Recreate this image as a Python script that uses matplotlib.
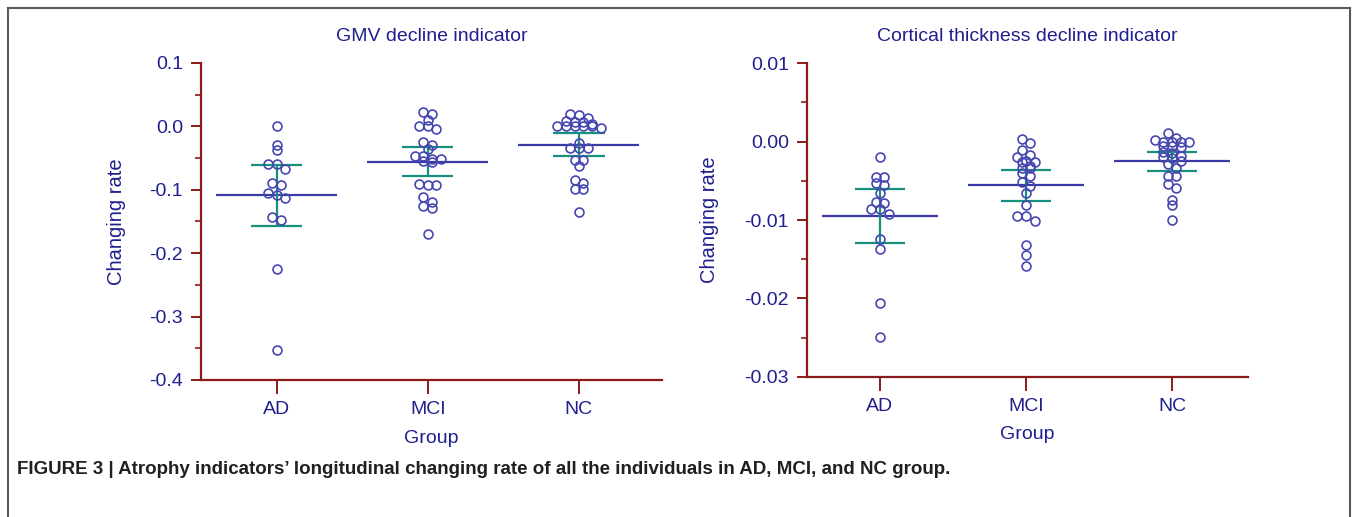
import matplotlib

matplotlib.use("Agg")
import matplotlib.pyplot as plt
import numpy as np
from matplotlib.lines import Line2D
from matplotlib.ticker import FormatStrFormatter, MultipleLocator

# Палитра как в исходнике (Prism)
SPINE = "#8b1a1a"
TEXT = "#1f1f8f"
POINT = "#4646b0"
MEAN = "#3a3aa6"
CI = "#17917f"

plt.rcParams.update({
    "font.family": ["Liberation Sans", "DejaVu Sans"],
    "axes.unicode_minus": False,
    "font.size": 14,
})

W, H = 1357, 517

GROUPS = ["AD", "MCI", "NC"]

# GMV decline indicator
gmv_ad = [0.000, -0.029, -0.038, -0.060, -0.060, -0.067, -0.089, -0.093,
          -0.1056, -0.108, -0.113, -0.1436, -0.148, -0.2255, -0.353]
gmv_mci = [0.022, 0.019, 0.0095, 0.0, 0.0, -0.004, -0.025, -0.030, -0.035,
           -0.046, -0.046, -0.051, -0.052, -0.055, -0.056, -0.091, -0.092,
           -0.092, -0.112, -0.119, -0.125, -0.129, -0.170]
gmv_nc = [0.020, 0.0175, 0.013, 0.0079, 0.0069, 0.0069, 0.0042, 0.0, 0.0,
          0.0, 0.0, 0.0, -0.002, -0.026, -0.034, -0.034, -0.034, -0.053,
          -0.053, -0.063, -0.084, -0.090, -0.098, -0.099, -0.135]

# Cortical thickness decline indicator
ct_ad = [-0.00197, -0.00447, -0.00447, -0.00524, -0.00554, -0.00651,
         -0.00766, -0.00779, -0.00865, -0.00865, -0.00928, -0.01239,
         -0.01367, -0.02056, -0.02496]
ct_mci = [0.00038, -0.00013, -0.0011, -0.0017, -0.00196, -0.00247, -0.00255,
          -0.0026, -0.0031, -0.0033, -0.0034, -0.0040, -0.0044, -0.0051,
          -0.0056, -0.0065, -0.0081, -0.0095, -0.0095, -0.0101, -0.0132,
          -0.0145, -0.0159]
ct_nc = [0.0011, 0.0005, 0.0002, 0.0, 0.0, 0.0, 0.0, -0.00055, -0.00055,
         -0.0007, -0.0013, -0.0015, -0.0018, -0.0020, -0.0021, -0.0025,
         -0.0028, -0.0034, -0.0044, -0.0044, -0.0054, -0.0059, -0.0074,
         -0.0081, -0.0100]

# t(0.975, df) для 95% ДИ
T95 = {14: 2.145, 22: 2.074, 24: 2.064}


def swarm_offsets(values, px_x, px_y, diam=8.7, row=5.0):
    """Раскладка точек рядами, как в Prism: близкие по y — в один ряд."""
    values = np.asarray(values)
    order = np.argsort(values)[::-1]
    offs = np.zeros(len(values))
    rows, cur = [], []
    for i in order:
        if cur and (values[cur[0]] - values[i]) * px_y > row:
            rows.append(cur)
            cur = []
        cur.append(i)
    rows.append(cur)
    for r in rows:
        k = len(r)
        for j, i in enumerate(r):
            offs[i] = (j - (k - 1) / 2) * diam / px_x
    return offs


def panel(rect, data, ylim, major, minor, fmt, title, xmax, ylab_x):
    ax = fig.add_axes(rect)
    ax.set_xlim(0.5, xmax)
    ax.set_ylim(*ylim)
    px_x = rect[2] * W / (xmax - 0.5)
    px_y = rect[3] * H / (ylim[1] - ylim[0])

    for k, vals in enumerate(data, start=1):
        v = np.asarray(vals)
        m = v.mean()
        ci = T95[len(v) - 1] * v.std(ddof=1) / np.sqrt(len(v))
        ax.hlines(m, k - 0.4, k + 0.4, color=MEAN, lw=1.6, zorder=2)
        ax.vlines(k, m - ci, m + ci, color=CI, lw=1.6, zorder=2)
        ax.hlines([m - ci, m + ci], k - 0.17, k + 0.17, color=CI, lw=1.6, zorder=2)
        ax.plot(k + swarm_offsets(v, px_x, px_y), v, "o", mfc="none", mec=POINT,
                ms=6.4, mew=1.2, zorder=3, clip_on=False)

    ax.spines[["top", "right"]].set_visible(False)
    for s in ("left", "bottom"):
        ax.spines[s].set_color(SPINE)
        ax.spines[s].set_linewidth(1.6)
    ax.yaxis.set_major_locator(MultipleLocator(major))
    ax.yaxis.set_minor_locator(MultipleLocator(minor))
    ax.yaxis.set_major_formatter(FormatStrFormatter(fmt))
    ax.set_xticks([1, 2, 3], GROUPS)
    ax.tick_params(axis="y", which="major", length=7, width=1.4, color=SPINE,
                   labelcolor=TEXT, labelsize=14, pad=6)
    ax.tick_params(axis="y", which="minor", length=4, width=1.2, color=SPINE)
    ax.tick_params(axis="x", length=10, width=1.4, color=SPINE,
                   labelcolor=TEXT, labelsize=14, pad=5)

    ax.set_xlabel("Group", color=TEXT, fontsize=14)
    ax.xaxis.label.set_va("center")
    ax.xaxis.set_label_coords(0.5, -0.183)
    ax.set_ylabel("Changing rate", color=TEXT, fontsize=14.5)
    ax.yaxis.label.set_va("center")
    ax.yaxis.set_label_coords(ylab_x, 0.5)
    ax.text(0.5, 1.085, title, transform=ax.transAxes, ha="center",
            va="center", color=TEXT, fontsize=14)
    return ax


fig = plt.figure(figsize=(W / 100, H / 100), dpi=100)

panel([201 / W, 1 - 380 / H, 461 / W, 317 / H], [gmv_ad, gmv_mci, gmv_nc],
      (-0.4, 0.1), 0.1, 0.05, "%.1f", "GMV decline indicator", 3.55, -0.184)
panel([807 / W, 1 - 376.7 / H, 441 / W, 313.4 / H], [ct_ad, ct_mci, ct_nc],
      (-0.03, 0.01), 0.01, 0.005, "%.2f", "Cortical thickness decline indicator",
      3.52, -0.22)

# рамка вокруг рисунка
fx0, fx1, fy = 8 / W, 1350 / W, 1 - 8 / H
for xs, ys in (([fx0, fx1], [fy, fy]), ([fx0, fx0], [0, fy]), ([fx1, fx1], [0, fy])):
    fig.add_artist(Line2D(xs, ys, color="#5a5a5a", lw=1.5))

fig.text(17 / W, 1 - 470 / H,
         "FIGURE 3 | Atrophy indicators\u2019 longitudinal changing rate of all the "
         "individuals in AD, MCI, and NC group.",
         ha="left", va="center", fontsize=13.5, fontweight="bold", color="#231f20")

fig.savefig("out.png", dpi=100)
